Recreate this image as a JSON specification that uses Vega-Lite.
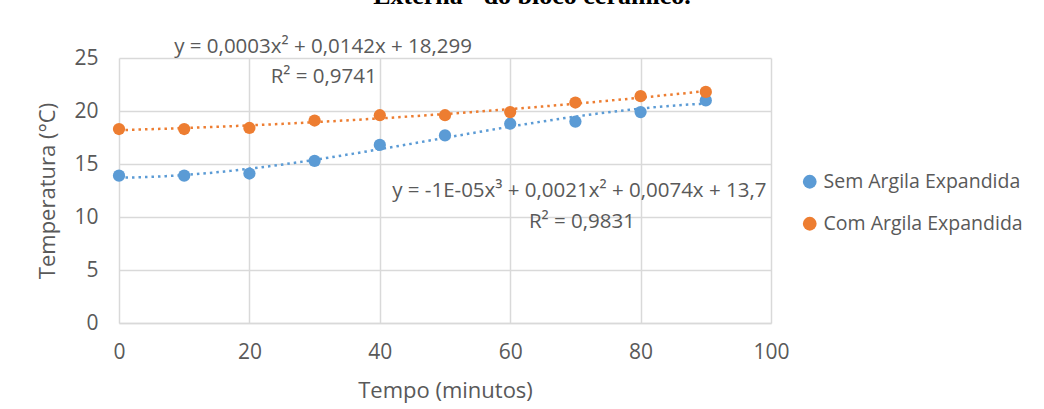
{
  "$schema": "https://vega.github.io/schema/vega-lite/v6.json",
  "autosize": "none",
  "width": 652,
  "height": 265,
  "padding": {"left": 119, "top": 58, "right": 273, "bottom": 86},
  "background": "white",
  "title": {
    "text": "Externa\" do bloco cerâmico.",
    "font": "Liberation Serif",
    "fontSize": 26,
    "fontWeight": "bold",
    "color": "black",
    "anchor": "middle",
    "frame": "group",
    "dx": 87,
    "offset": 7,
    "baseline": "alphabetic"
  },
  "config": {
    "view": {"stroke": null},
    "font": "Open Sans",
    "axis": {
      "labelFont": "Open Sans",
      "titleFont": "Open Sans",
      "labelColor": "#595959",
      "titleColor": "#595959",
      "labelFontSize": 21,
      "titleFontSize": 22,
      "titleFontWeight": "normal",
      "gridColor": "#d9d9d9",
      "gridWidth": 1.5,
      "ticks": false,
      "labelFlush": false
    },
    "legend": {
      "labelFont": "Open Sans",
      "labelColor": "#595959",
      "labelFontSize": 19.5,
      "labelLimit": 0
    }
  },
  "datasets": {
    "pts": [
      {"x": 0, "y": 13.9, "series": "Sem Argila Expandida"},
      {"x": 10, "y": 13.9, "series": "Sem Argila Expandida"},
      {"x": 20, "y": 14.1, "series": "Sem Argila Expandida"},
      {"x": 30, "y": 15.3, "series": "Sem Argila Expandida"},
      {"x": 40, "y": 16.8, "series": "Sem Argila Expandida"},
      {"x": 50, "y": 17.7, "series": "Sem Argila Expandida"},
      {"x": 60, "y": 18.8, "series": "Sem Argila Expandida"},
      {"x": 70, "y": 19.0, "series": "Sem Argila Expandida"},
      {"x": 80, "y": 19.9, "series": "Sem Argila Expandida"},
      {"x": 90, "y": 21.0, "series": "Sem Argila Expandida"},
      {"x": 0, "y": 18.3, "series": "Com Argila Expandida"},
      {"x": 10, "y": 18.3, "series": "Com Argila Expandida"},
      {"x": 20, "y": 18.4, "series": "Com Argila Expandida"},
      {"x": 30, "y": 19.1, "series": "Com Argila Expandida"},
      {"x": 40, "y": 19.6, "series": "Com Argila Expandida"},
      {"x": 50, "y": 19.6, "series": "Com Argila Expandida"},
      {"x": 60, "y": 19.9, "series": "Com Argila Expandida"},
      {"x": 70, "y": 20.8, "series": "Com Argila Expandida"},
      {"x": 80, "y": 21.4, "series": "Com Argila Expandida"},
      {"x": 90, "y": 21.8, "series": "Com Argila Expandida"}
    ],
    "notes": [
      {"x": 31.3, "y": 26.05, "label": "y = 0,0003x² + 0,0142x + 18,299"},
      {"x": 31.4, "y": 23.2, "label": "R² = 0,9741"},
      {"x": 70.6, "y": 12.45, "label": "y = -1E-05x³ + 0,0021x² + 0,0074x + 13,7"},
      {"x": 71.0, "y": 9.55, "label": "R² = 0,9831"}
    ]
  },
  "layer": [
    {
      "data": {"name": "pts"},
      "transform": [
        {"filter": "datum.series === 'Sem Argila Expandida'"},
        {"regression": "y", "on": "x", "method": "poly", "order": 3, "extent": [0, 90], "groupby": ["series"]}
      ],
      "mark": {"type": "line", "strokeWidth": 2.5, "strokeDash": [2.5, 4], "clip": false},
      "encoding": {
        "x": {"field": "x", "type": "quantitative"},
        "y": {"field": "y", "type": "quantitative"},
        "color": {"field": "series", "type": "nominal"}
      }
    },
    {
      "data": {"name": "pts"},
      "transform": [
        {"filter": "datum.series === 'Com Argila Expandida'"},
        {"regression": "y", "on": "x", "method": "poly", "order": 2, "extent": [0, 90], "groupby": ["series"]}
      ],
      "mark": {"type": "line", "strokeWidth": 2.5, "strokeDash": [2.5, 4], "clip": false},
      "encoding": {
        "x": {"field": "x", "type": "quantitative"},
        "y": {"field": "y", "type": "quantitative"},
        "color": {"field": "series", "type": "nominal"}
      }
    },
    {
      "data": {"name": "pts"},
      "mark": {"type": "circle", "size": 150, "opacity": 1},
      "encoding": {
        "x": {
          "field": "x", "type": "quantitative",
          "scale": {"domain": [0, 100], "nice": false},
          "axis": {"values": [0, 20, 40, 60, 80, 100], "title": "Tempo (minutos)", "domainColor": "#d9d9d9", "domainWidth": 1.5, "labelPadding": 18, "titlePadding": 18}
        },
        "y": {
          "field": "y", "type": "quantitative",
          "scale": {"domain": [0, 25], "nice": false},
          "axis": {"values": [0, 5, 10, 15, 20, 25], "title": "Temperatura (°C)", "domain": false, "labelPadding": 21, "titlePadding": 14}
        },
        "color": {
          "field": "series", "type": "nominal",
          "scale": {"domain": ["Sem Argila Expandida", "Com Argila Expandida"], "range": ["#5B9BD5", "#ED7D31"]},
          "legend": {"title": null, "orient": "none", "legendX": 681, "legendY": 114, "symbolType": "circle", "symbolSize": 190, "symbolOpacity": 1, "symbolStrokeWidth": 0, "rowPadding": 21, "labelOffset": 4}
        }
      }
    },
    {
      "data": {"name": "notes"},
      "mark": {"type": "text", "fontSize": 20.5, "color": "#595959", "font": "Open Sans", "align": "center", "baseline": "middle"},
      "encoding": {
        "x": {"field": "x", "type": "quantitative"},
        "y": {"field": "y", "type": "quantitative"},
        "text": {"field": "label"}
      }
    }
  ]
}
